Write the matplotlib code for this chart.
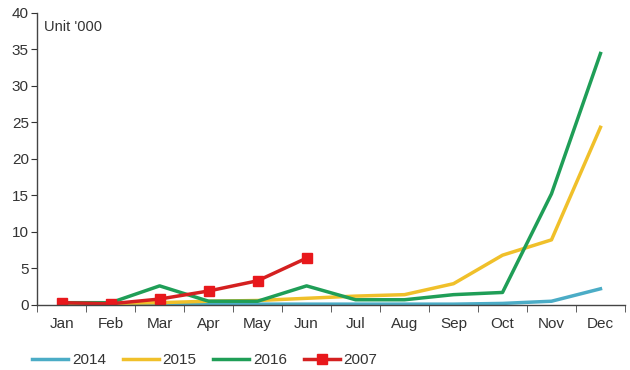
import numpy as np
import matplotlib
matplotlib.use("Agg")
import matplotlib.pyplot as plt

plt.rcParams["font.family"] = ["Liberation Sans", "DejaVu Sans"]

# ----- data -----
months = ["Jan", "Feb", "Mar", "Apr", "May", "Jun",
          "Jul", "Aug", "Sep", "Oct", "Nov", "Dec"]
y2014 = [0.1, 0.1, 0.1, 0.1, 0.1, 0.1, 0.1, 0.1, 0.1, 0.2, 0.5, 2.2]
y2015 = [0.2, 0.2, 0.3, 0.5, 0.6, 0.9, 1.2, 1.4, 2.9, 6.8, 8.9, 24.3]
y2016 = [0.3, 0.3, 2.6, 0.5, 0.5, 2.6, 0.7, 0.7, 1.4, 1.7, 15.2, 34.4]
y2007 = [0.3, 0.15, 0.8, 1.9, 3.3, 6.4]

fig = plt.figure(figsize=(6.3, 3.7), dpi=100)
ax = fig.add_axes([0.059, 0.176, 0.933, 0.79])

x = np.arange(len(months))
ax.plot(x, y2014, color="#4bacc6", lw=2.5, label="2014")
ax.plot(x, y2015, color="#f0c02a", lw=2.5, label="2015")
ax.plot(x, y2016, color="#1f9e57", lw=2.5, label="2016")
ax.plot(x[:len(y2007)], y2007, color="#d42020", lw=2.5, marker="s",
        markersize=7, markerfacecolor="#e8181c", markeredgecolor="#e8181c",
        label="2007")

ax.set_xlim(-0.5, 11.5)
ax.set_ylim(0, 40)
ax.set_yticks(range(0, 41, 5))

# month labels centred, tick marks on the band edges
ax.set_xticks(x)
ax.set_xticklabels(months)
ax.set_xticks(np.arange(-0.5, 12, 1), minor=True)
ax.tick_params(axis="x", which="major", length=0, pad=9, labelsize=11, colors="#333333")
ax.tick_params(axis="x", which="minor", length=5, direction="out", color="#444444")
ax.tick_params(axis="y", length=4, direction="out", labelsize=11, colors="#333333",
               pad=2)

for side in ["top", "right"]:
    ax.spines[side].set_visible(False)
for side in ["left", "bottom"]:
    ax.spines[side].set_color("#444444")
    ax.spines[side].set_linewidth(1)

ax.text(0.011, 0.975, "Unit '000", transform=ax.transAxes, fontsize=10.5,
        color="#333333", va="top", ha="left")

fig.legend(loc="center left", bbox_to_anchor=(0.051, 0.026), ncol=4, frameon=False,
           fontsize=11, handlelength=2.35, handletextpad=0.25, columnspacing=1.1,
           borderpad=0, borderaxespad=0, labelcolor="#333333")

fig.savefig("out.png", dpi=100, facecolor="white")
